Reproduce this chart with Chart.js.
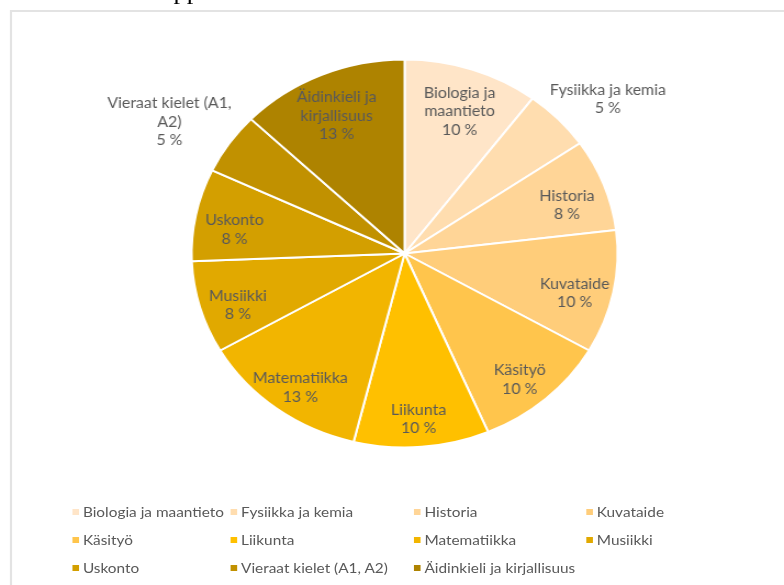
<!DOCTYPE html>
<html>
<head>
<meta charset="utf-8">
<script src="https://cdn.jsdelivr.net/npm/chart.js@4/dist/chart.umd.min.js"></script>
<style>
html, body { margin: 0; padding: 0; background: #fff; overflow: hidden; }
#page { position: absolute; left: 0; top: 0; width: 714px; height: 585px; transform: scaleX(1.098); transform-origin: 0 0; }
#heading { position: absolute; left: 158px; top: -22px; font: 24px "Liberation Serif", serif; color: #000; }
#frame { position: absolute; left: 9px; top: 10px; width: 760px; height: 600px; border: 2px solid #e3e3e3; }
#chartBox { position: absolute; left: 0; top: 0; width: 714px; height: 585px; }
#legend { position: absolute; left: 65.5px; top: 502px; display: grid; grid-template-columns: 144px 167px 157px auto;
          font: 14px Lato, sans-serif; color: #595959; }
#legend .item { height: 28px; line-height: 20px; white-space: nowrap; }
#legend .box { display: inline-block; width: 6px; height: 6px; margin-right: 4px; vertical-align: 2px; }
</style>
</head>
<body>
<div id="page">
  <div id="heading">pp</div>
  <div id="frame"></div>
  <div id="chartBox"><canvas id="pie"></canvas></div>
  <div id="legend"></div>
</div>
<script>
const subjects = [
    "Biologia ja maantieto", "Fysiikka ja kemia", "Historia", "Kuvataide",
    "Käsityö", "Liikunta", "Matematiikka", "Musiikki",
    "Uskonto", "Vieraat kielet (A1, A2)", "Äidinkieli ja kirjallisuus"
];
const hours = [4, 2, 3, 4, 4, 4, 5, 3, 3, 2, 5];
const sliceColors = [
    "#FFE5C8", "#FFDDAF", "#FFD597", "#FFCD7A",
    "#FFC54C", "#FFC000", "#F2B500", "#E1A900",
    "#D39F00", "#C19100", "#AE8300"
];

const LABEL_FONT = "14.5px Lato, sans-serif";
const LINE_H = 18.5;

function wrapText(ctx, text, maxW) {
    const words = text.split(" ");
    const lines = [];
    let cur = "";
    for (const w of words) {
        const test = cur ? cur + " " + w : w;
        if (cur && ctx.measureText(test).width > maxW) {
            lines.push(cur);
            cur = w;
        } else {
            cur = test;
        }
    }
    if (cur) lines.push(cur);
    return lines;
}

const sliceLabels = {
    id: "sliceLabels",
    afterDatasetsDraw(chart) {
        const ctx = chart.ctx;
        const meta = chart.getDatasetMeta(0);
        const total = hours.reduce((a, b) => a + b, 0);
        ctx.save();
        ctx.font = LABEL_FONT;
        ctx.fillStyle = "#595959";
        ctx.textAlign = "center";
        ctx.textBaseline = "middle";
        meta.data.forEach((arc, i) => {
            const p = arc.getProps(["x", "y", "startAngle", "endAngle", "outerRadius"], true);
            const mid = (p.startAngle + p.endAngle) / 2;
            const share = hours[i] / total;
            const lines = wrapText(ctx, subjects[i], 130);
            lines.push(Math.round(share * 100) + " %");
            const w = Math.max(...lines.map(l => ctx.measureText(l).width));
            const h = lines.length * LINE_H;
            let cx, cy;
            if (share < 0.06) {
                // small slices get their label outside the pie
                const r = p.outerRadius * 1.05;
                cx = p.x + Math.cos(mid) * r + Math.cos(mid) * w / 2;
                cy = p.y + Math.sin(mid) * r + Math.sin(mid) * h / 2;
            } else {
                const r = p.outerRadius * 0.815;
                cx = p.x + Math.cos(mid) * r;
                cy = p.y + Math.sin(mid) * r + 8;
            }
            lines.forEach((l, k) => {
                ctx.fillText(l, cx, cy - h / 2 + LINE_H * (k + 0.5));
            });
        });
        ctx.restore();
    }
};

function buildLegend() {
    const out = document.getElementById("legend");
    subjects.forEach((s, i) => {
        const item = document.createElement("div");
        item.className = "item";
        const box = document.createElement("span");
        box.className = "box";
        box.style.background = sliceColors[i];
        item.appendChild(box);
        item.appendChild(document.createTextNode(s));
        out.appendChild(item);
    });
}

const ctx = document.getElementById("pie").getContext("2d");
new Chart(ctx, {
    type: "pie",
    data: {
        labels: subjects,
        datasets: [{
            data: hours,
            backgroundColor: sliceColors,
            borderColor: "#ffffff",
            borderWidth: 2,
            radius: 194
        }]
    },
    options: {
        responsive: true,
        maintainAspectRatio: false,
        animation: false,
        layout: { padding: { left: 23, right: 0, top: 0, bottom: 78 } },
        plugins: {
            legend: { display: false },
            tooltip: { enabled: false }
        }
    },
    plugins: [sliceLabels]
});
buildLegend();
</script>
</body>
</html>
